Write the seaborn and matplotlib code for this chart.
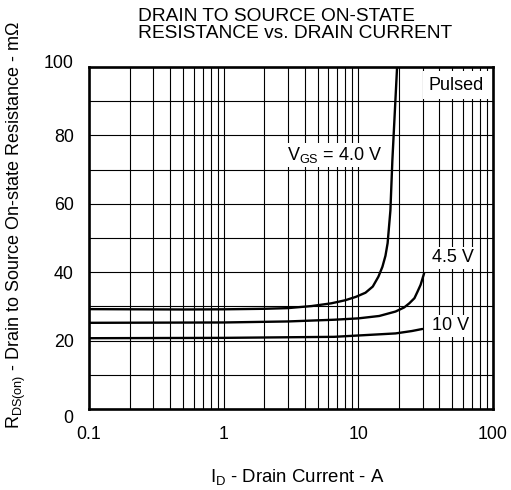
import matplotlib
matplotlib.use("Agg")
import matplotlib.pyplot as plt
import matplotlib.transforms as mtransforms
from matplotlib.ticker import FixedLocator, NullFormatter, LogLocator
import numpy as np
import pandas as pd
import seaborn as sns

# ---- data ----
id_40 = [0.1, 0.5, 1.0, 2.0, 3.0, 4.5, 6.3, 8.0, 9.6, 11.3, 12.8, 14.1, 15.1, 15.9, 16.5, 17.3, 17.9, 19.4]
r_40 = [29.2, 29.1, 29.15, 29.3, 29.5, 30.1, 30.9, 31.8, 32.8, 34.0, 35.8, 38.7, 41.6, 44.8, 48.5, 58.0, 72.8, 100.0]

id_45 = [0.1, 1, 3, 6.6, 10, 14.3, 18.9, 21.9, 23.9, 26.1, 27.5, 29.0, 30.8]
r_45 = [25.2, 25.3, 25.6, 26.1, 26.5, 27.2, 28.5, 29.7, 30.9, 32.4, 34.3, 36.3, 39.7]

id_10 = [0.1, 1, 6.6, 18.9, 25, 29.9]
r_10 = [20.7, 20.8, 21.1, 22.1, 22.8, 23.4]

x_ticks = [0.1, 1, 10, 100]
x_tick_labels = ["0.1", "1", "10", "100"]
y_ticks = [0, 20, 40, 60, 80, 100]
y_minor = [10, 30, 50, 70, 90]

series = [("4.0", id_40, r_40), ("4.5", id_45, r_45), ("10", id_10, r_10)]
frames = [pd.DataFrame({"ID": x, "R": y, "VGS": name}) for name, x, y in series]
df = pd.concat(frames, ignore_index=True)

# ---- style ----
sns.set_style("white")
plt.rcParams["font.family"] = ["Liberation Sans", "DejaVu Sans"]
plt.rcParams["mathtext.fontset"] = "custom"
plt.rcParams["mathtext.rm"] = "Liberation Sans"
plt.rcParams["mathtext.it"] = "Liberation Sans"
for k in ["text.color", "axes.labelcolor", "xtick.color", "ytick.color"]:
    plt.rcParams[k] = "black"

W, H = 511, 490
fig = plt.figure(figsize=(W / 100, H / 100), dpi=100)
L, R, T, B = 89, 493, 67, 409
ax = fig.add_axes([L / W, 1 - B / H, (R - L) / W, (B - T) / H])

for name, sub in df.groupby("VGS", sort=False):
    sns.lineplot(data=sub, x="ID", y="R", ax=ax, color="black", lw=1.7,
                 estimator=None, sort=False, legend=False, zorder=4)

ax.set_xscale("log")
ax.set_xlim(0.1, 100)
ax.set_ylim(0, 100)
ax.set_xticks(x_ticks)
ax.set_xticklabels(x_tick_labels)
ax.xaxis.set_minor_locator(LogLocator(base=10, subs=np.arange(2, 10)))
ax.xaxis.set_minor_formatter(NullFormatter())
ax.set_yticks(y_ticks)
ax.set_yticklabels([str(v) for v in y_ticks])
ax.yaxis.set_minor_locator(FixedLocator(y_minor))

ax.grid(True, which="both", color="black", lw=0.8, zorder=1)
ax.set_axisbelow(True)
ax.tick_params(which="both", length=0)
ax.tick_params(axis="x", labelsize=12.8, pad=12.5, colors="black")
ax.tick_params(axis="y", labelsize=12.8, pad=11, colors="black")
for s in ax.spines.values():
    s.set_visible(True)
    s.set_color("black")
    s.set_linewidth(1.9)
ax.set_xlabel("")
ax.set_ylabel("")

# offset the 0 and 100 y labels as in reference
fig.canvas.draw()
for lab in ax.get_yticklabels():
    t = lab.get_text()
    if t == "0":
        lab.set_transform(lab.get_transform() + mtransforms.ScaledTranslation(0, -0.07, fig.dpi_scale_trans))
    elif t == "100":
        lab.set_transform(lab.get_transform() + mtransforms.ScaledTranslation(0, 0.05, fig.dpi_scale_trans))

box = dict(facecolor="white", edgecolor="none", pad=1.5)
ax.text(6.7, 74.3, r"V$_{\mathregular{GS}}$ = 4.0 V", ha="center", va="center",
        fontsize=13, bbox=box, zorder=3)
ax.text(50.1, 44.2, "4.5 V", ha="center", va="center", fontsize=13, bbox=box, zorder=3)
ax.text(48.4, 24.3, "10 V", ha="center", va="center", fontsize=13, bbox=box, zorder=3)
ax.text(53.2, 94.7, "Pulsed", ha="center", va="center", fontsize=13,
        bbox=dict(facecolor="white", edgecolor="none", pad=4), zorder=3)

# title (left aligned, two lines)
fig.text(138 / W, 1 - 16.5 / H, "DRAIN TO SOURCE ON-STATE", ha="left", va="center", fontsize=13.8)
fig.text(138 / W, 1 - 33.5 / H, "RESISTANCE vs. DRAIN CURRENT", ha="left", va="center", fontsize=13.8)

fig.text(297 / W, 1 - 477 / H, r"I$_{\mathregular{D}}$ - Drain Current - A", ha="center", va="center", fontsize=13.4)
fig.text(16.5 / W, 1 - 225 / H, r"R$_{\mathregular{DS(on)}}$ - Drain to Source On-state Resistance - m$\Omega$",
         ha="center", va="center", rotation=90, fontsize=13)

fig.savefig("out.png", dpi=100)
